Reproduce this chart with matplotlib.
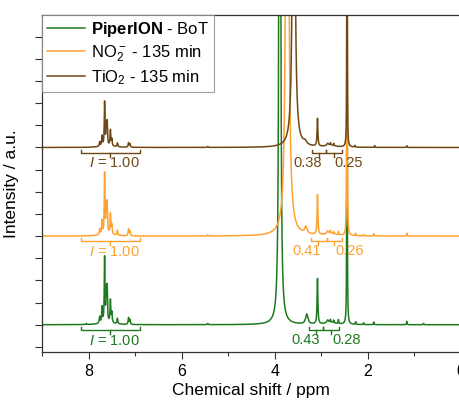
import matplotlib
matplotlib.use("Agg")
import matplotlib.pyplot as plt
import numpy as np

plt.rcParams['font.family'] = ['Liberation Sans', 'DejaVu Sans']
plt.rcParams['mathtext.fontset'] = 'custom'
plt.rcParams['mathtext.rm'] = 'Liberation Sans'
plt.rcParams['mathtext.it'] = 'Liberation Sans:italic'
plt.rcParams['mathtext.bf'] = 'Liberation Sans:bold'

# peak tables: position (ppm), height (a.u.), half width (ppm)
green_pos = [8.05, 7.76, 7.71, 7.655, 7.62, 7.60, 7.53, 7.50, 7.38, 7.14, 7.11, 7.6,
             5.44, 3.89, 3.31, 3.08, 2.86, 2.80, 2.73, 2.63, 2.8, 2.445, 2.26, 2.09, 1.87, 1.16, 0.80]
green_h = [0.04, 0.3, 0.7, 2.9, 1.3, 1.5, 1.0, 0.45, 0.25, 0.3, 0.2, 0.1,
           0.05, 150, 0.45, 2.05, 0.12, 0.12, 0.12, 0.18, 0.1, 120, 0.12, 0.08, 0.12, 0.15, 0.06]
green_w = [0.01, 0.01, 0.009, 0.008, 0.008, 0.008, 0.009, 0.009, 0.01, 0.01, 0.01, 0.15,
           0.01, 0.008, 0.03, 0.01, 0.02, 0.007, 0.007, 0.007, 0.12, 0.0018, 0.006, 0.006, 0.006, 0.007, 0.007]

orange_pos = [7.76, 7.71, 7.655, 7.62, 7.60, 7.53, 7.50, 7.38, 7.14, 7.11, 7.6,
              5.44, 3.73, 3.33, 3.08, 2.86, 2.80, 2.73, 2.63, 2.8, 2.445, 2.26, 2.09, 1.87, 1.16]
orange_h = [0.25, 0.6, 2.7, 1.15, 1.3, 0.9, 0.4, 0.22, 0.3, 0.2, 0.1,
            0.05, 60, 0.3, 1.8, 0.12, 0.12, 0.1, 0.15, 0.1, 120, 0.1, 0.06, 0.1, 0.12]
orange_w = [0.01, 0.009, 0.008, 0.008, 0.008, 0.009, 0.009, 0.01, 0.01, 0.01, 0.15,
            0.01, 0.0198, 0.03, 0.01, 0.02, 0.007, 0.007, 0.007, 0.12, 0.0018, 0.006, 0.006, 0.006, 0.007]

brown_pos = [7.76, 7.71, 7.655, 7.62, 7.60, 7.53, 7.50, 7.38, 7.14, 7.11, 7.6,
             5.44, 3.59, 3.35, 3.08, 2.86, 2.80, 2.73, 2.8, 2.445, 2.28, 1.85, 1.16]
brown_h = [0.2, 0.45, 1.95, 0.85, 1.0, 0.7, 0.3, 0.18, 0.2, 0.15, 0.08,
           0.04, 30, 0.15, 1.25, 0.1, 0.1, 0.1, 0.08, 100, 0.08, 0.08, 0.08]
brown_w = [0.01, 0.009, 0.008, 0.008, 0.008, 0.009, 0.009, 0.01, 0.01, 0.01, 0.15,
           0.01, 0.021, 0.04, 0.01, 0.02, 0.007, 0.007, 0.12, 0.0018, 0.006, 0.006, 0.007]

labels = [r'$\bf{PiperION}$ - BoT', r'NO$_2^-$ - 135 min', r'TiO$_2$ - 135 min']
colors = ['#1f7a1f', '#ffa12e', '#6e4717']
offsets = [0, 4, 8]

# integral brackets: (start, end, tick) in ppm, and labels (x ppm, text)
brackets = [(8.17, 6.90, 7.53)]
small_brackets = [
    [(3.27, 2.97, 3.12), (2.97, 2.62, 2.80)],
    [(3.22, 2.88, 3.07), (2.88, 2.56, 2.73)],
    [(3.20, 2.90, 3.05), (2.90, 2.56, 2.73)],
]
arom_label_x = 7.45
small_labels = [
    [(3.33, '0.43'), (2.45, '0.28')],
    [(3.31, '0.41'), (2.39, '0.26')],
    [(3.29, '0.38'), (2.41, '0.25')],
]


def spectrum(x, pos, h, w):
    y = np.zeros_like(x)
    for p, a, g in zip(pos, h, w):
        y += a * g**2 / ((x - p)**2 + g**2)
    return y


def bracket(ax, x0, x1, xt, base, color):
    yh = base - 0.24
    ax.plot([x0, x0, x1, x1], [base - 0.1, yh, yh, base - 0.1], color=color, lw=1.0)
    ax.plot([xt, xt], [yh, base - 0.42], color=color, lw=1.0)


fig = plt.figure(figsize=(4.59, 4.03), dpi=100)
ax = fig.add_axes([42 / 459, 51 / 403, 418.8 / 459, 337 / 403])

ppm = np.linspace(9.1, -0.2, 16000)
tables = [(green_pos, green_h, green_w), (orange_pos, orange_h, orange_w), (brown_pos, brown_h, brown_w)]
for i, (pos, h, w) in enumerate(tables):
    ax.plot(ppm, spectrum(ppm, pos, h, w) + offsets[i], color=colors[i], lw=1.1, label=labels[i])

for i in range(3):
    base = offsets[i]
    c = colors[i]
    for x0, x1, xt in brackets:
        bracket(ax, x0, x1, xt, base, c)
    ax.text(arom_label_x, base - 0.72, r'$I$ = 1.00', color=c, fontsize=10.5, ha='center', va='center')
    for x0, x1, xt in small_brackets[i]:
        bracket(ax, x0, x1, xt, base, c)
    for xl, t in small_labels[i]:
        ax.text(xl, base - 0.68, t, color=c, fontsize=10.5, ha='center', va='center')

ax.set_xlim(9, 0)
ax.set_ylim(-1.23, 13.98)
ax.set_xticks([8, 6, 4, 2, 0])
ax.set_xticks([9, 7, 5, 3, 1], minor=True)
ax.set_yticks(np.arange(-1, 14))
ax.set_yticklabels([])
ax.tick_params(axis='both', direction='out', length=5, width=0.8, labelsize=11.5, color='#333333')
ax.tick_params(axis='x', which='minor', direction='out', length=3, width=0.8, color='#333333')
for s in ax.spines.values():
    s.set_linewidth(0.9)
    s.set_color('#333333')

ax.set_xlabel('Chemical shift / ppm', fontsize=12.5, labelpad=3)
ax.set_ylabel('Intensity / a.u.', fontsize=12.5, labelpad=8)

leg = ax.legend(loc='upper left', fontsize=12, frameon=True, fancybox=False,
                borderaxespad=0, handlelength=2.3, handletextpad=0.35,
                labelspacing=0.25, borderpad=0.3)
leg.get_frame().set_edgecolor('#888888')
leg.get_frame().set_linewidth(0.8)

fig.savefig('out.png', dpi=100)
